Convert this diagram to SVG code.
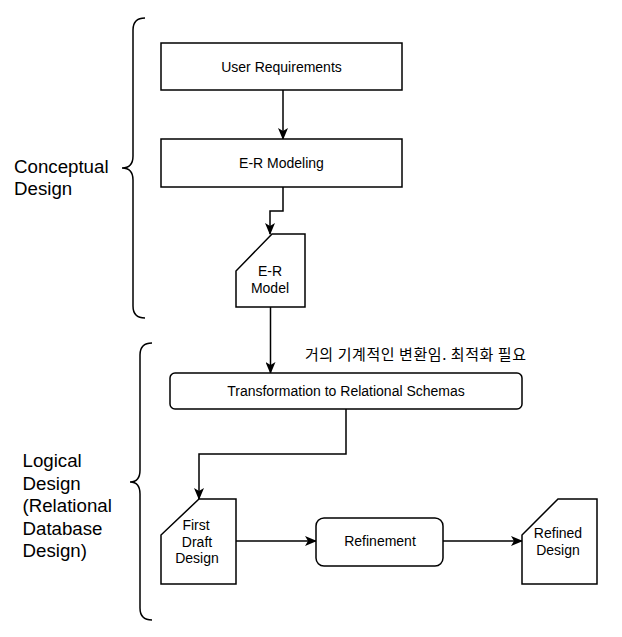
<svg xmlns="http://www.w3.org/2000/svg" width="622" height="637" viewBox="0 0 622 637">
<style>
.box{fill:#fff;stroke:#000;stroke-width:1.5}
.t{font-family:"Liberation Sans",Arial,sans-serif;font-size:14px;fill:#000;text-anchor:middle}
.big{font-family:"Liberation Sans",Arial,sans-serif;font-size:18.7px;fill:#000}
.ko{font-family:"Noto Sans CJK KR","Noto Sans",sans-serif;font-size:15px;fill:#000}
.c{fill:none;stroke:#000;stroke-width:1.5}
</style>
<defs>
<marker id="arr" viewBox="0 0 12 10" refX="11" refY="5" markerWidth="12" markerHeight="10" markerUnits="userSpaceOnUse" orient="auto">
<path d="M0,0 L12,5 L0,10 L3,5 Z" fill="#000"/>
</marker>
</defs>
<g id="braces">
<path class="c" d="M145,18 Q133,18 133,30 L133,156 Q133,168 122,168 Q133,168 133,180 L133,306 Q133,318 145,318"/>
<path class="c" d="M152,343 Q140,343 140,355 L140,470 Q140,482 130,482 Q140,482 140,494 L140,608 Q140,620 152,620"/>
</g>
<g id="labels">
<text class="big" x="14" y="172.5">Conceptual</text>
<text class="big" x="14" y="194.5">Design</text>
<text class="big" x="22.5" y="467">Logical</text>
<text class="big" x="22.5" y="489.5">Design</text>
<text class="big" x="22.5" y="512">(Relational</text>
<text class="big" x="22.5" y="534.5">Database</text>
<text class="big" x="22.5" y="557">Design)</text>
</g>
<g id="connectors">
<path class="c" d="M283,90 L283,139" marker-end="url(#arr)"/>
<path class="c" d="M283,187 L283,211 L270,211 L270,234" marker-end="url(#arr)"/>
<path class="c" d="M270.5,307 L270.5,373" marker-end="url(#arr)"/>
<path class="c" d="M346,409 L346,454 L199,454 L199,499" marker-end="url(#arr)"/>
<path class="c" d="M236,541 L316,541" marker-end="url(#arr)"/>
<path class="c" d="M443,541 L522,541" marker-end="url(#arr)"/>
<text class="ko" x="305" y="359.5" textLength="221" lengthAdjust="spacing">거의 기계적인 변환임. 최적화 필요</text>
</g>
<g id="user-requirements">
<rect class="box" x="161" y="43" width="241" height="47"/>
<text class="t" x="281.5" y="71.5">User Requirements</text>
</g>
<g id="er-modeling">
<rect class="box" x="161" y="139" width="241" height="48"/>
<text class="t" x="281.5" y="168">E-R Modeling</text>
</g>
<g id="er-model">
<polygon class="box" points="272,234 305,234 305,307 236,307 236,271"/>
<text class="t" x="270" y="276">E-R</text>
<text class="t" x="270" y="293">Model</text>
</g>
<g id="transformation">
<rect class="box" x="170" y="373" width="352" height="36" rx="5"/>
<text class="t" x="346" y="396">Transformation to Relational Schemas</text>
</g>
<g id="first-draft">
<polygon class="box" points="199,499 236,499 236,584 161,584 161,535"/>
<text class="t" x="196" y="530">First</text>
<text class="t" x="197" y="547">Draft</text>
<text class="t" x="197" y="563">Design</text>
</g>
<g id="refinement">
<rect class="box" x="316" y="518" width="127" height="48" rx="8"/>
<text class="t" x="380" y="546">Refinement</text>
</g>
<g id="refined-design">
<polygon class="box" points="558,499 597,499 597,584 522,584 522,535"/>
<text class="t" x="558" y="538">Refined</text>
<text class="t" x="558" y="555">Design</text>
</g>
</svg>
